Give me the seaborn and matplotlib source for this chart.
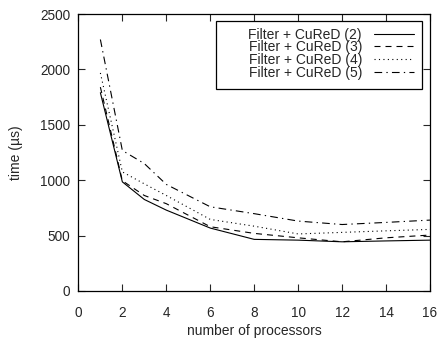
import matplotlib
matplotlib.use("Agg")
import matplotlib.pyplot as plt
from matplotlib.patches import Rectangle
import seaborn as sns
import pandas as pd

processors = [1, 2, 3, 4, 6, 8, 10, 12, 14, 16]
cured2 = [1790, 985, 826, 730, 568, 466, 459, 444, 452, 459]
cured3 = [1840, 995, 862, 788, 580, 520, 480, 444, 480, 505]
cured4 = [1968, 1075, 967, 862, 646, 585, 515, 529, 543, 556]
cured5 = [2270, 1268, 1150, 962, 760, 698, 631, 600, 619, 640]
labels = ["Filter + CuReD (2)", "Filter + CuReD (3)", "Filter + CuReD (4)", "Filter + CuReD (5)"]

rows = []
for lab, vals in zip(labels, [cured2, cured3, cured4, cured5]):
    for p, v in zip(processors, vals):
        rows.append({"processors": p, "time": v, "series": lab})
df = pd.DataFrame(rows)

sns.set_style("ticks")
plt.rcParams['font.family'] = ['Liberation Sans', 'DejaVu Sans']

W, H = 442, 344
fig = plt.figure(figsize=(W/100, H/100), dpi=100)
ax_l, ax_r, ax_t, ax_b = 78.4, 430, 14, 291
ax = fig.add_axes([ax_l/W, 1-ax_b/H, (ax_r-ax_l)/W, (ax_b-ax_t)/H])

lw = 0.8
dashes = {labels[0]: "", labels[1]: (5.4, 4.5), labels[2]: (1, 3), labels[3]: (6.9, 3.8, 1.2, 3.8)}
sns.lineplot(data=df, x="processors", y="time", hue="series", style="series",
             palette=["black"]*4, dashes=dashes, linewidth=lw, ax=ax, legend=True)

ax.set_xlim(0, 16)
ax.set_ylim(0, 2500)
ax.set_xticks(range(0, 17, 2))
ax.set_yticks(range(0, 2501, 500))
ax.tick_params(direction="in", top=True, right=True, length=4.8, width=0.8, labelsize=9.8)
ax.tick_params(axis="x", pad=11)
ax.tick_params(axis="y", pad=6)
for s in ax.spines.values():
    s.set_linewidth(0.9)
    s.set_color("black")
ax.set_xlabel("number of processors", fontsize=10, labelpad=3)
ax.set_ylabel("time (µs)", fontsize=10, labelpad=12.5)

aw, ah = ax_r - ax_l, ax_b - ax_t
leg = ax.legend(loc="upper right", markerfirst=False, frameon=False,
                fontsize=10, handlelength=2.9, borderpad=0.0, labelspacing=-0.095,
                borderaxespad=0.0, handletextpad=0.85,
                bbox_to_anchor=((414 - ax_l)/aw, 1 - (27.6 - ax_t)/ah))
for t in leg.get_texts():
    t.set_ha("right")
ax.add_patch(Rectangle(((215.7 - ax_l)/aw, 1 - (89.3 - ax_t)/ah),
                       (422 - 215.7)/aw, (89.3 - 20.7)/ah,
                       transform=ax.transAxes, fill=False, edgecolor="black",
                       linewidth=0.9, zorder=5))

fig.savefig("out.png", dpi=100)
